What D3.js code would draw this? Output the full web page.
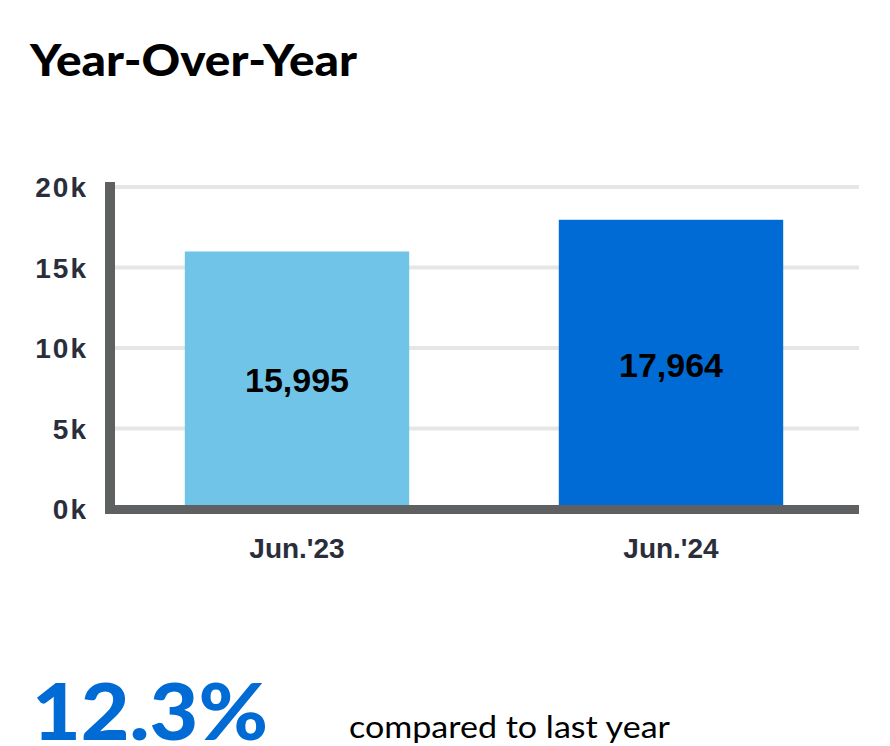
<!DOCTYPE html>
<html>
<head>
<meta charset="utf-8">
<script src="https://cdn.jsdelivr.net/npm/d3@7"></script>
<style>
  html, body { margin: 0; padding: 0; background: #fff; }
  svg { display: block; }
</style>
</head>
<body>
<svg id="chart" width="890" height="746"></svg>
<script>
const title = "Year-Over-Year";
const categories = ["Jun.'23", "Jun.'24"];
const values = [15995, 17964];
const barColors = ["#70c4e8", "#006bd5"];
const yTicks = [0, 5000, 10000, 15000, 20000];
const yTickLabels = ["0k", "5k", "10k", "15k", "20k"];
const changeText = "12.3%";
const changeCaption = "compared to last year";

const svg = d3.select("#chart");

svg.append("text")
  .attr("x", 30).attr("y", 76)
  .attr("font-family", "Lato, 'Open Sans', sans-serif")
  .attr("font-weight", 900)
  .attr("font-size", 43)
  .attr("textLength", 327)
  .attr("lengthAdjust", "spacingAndGlyphs")
  .attr("fill", "#000")
  .text(title);

const x = d3.scaleBand().domain(categories).range([110, 858]).paddingInner(0.4).paddingOuter(0.2);
const y = d3.scaleLinear().domain([0, 20000]).range([509, 187]);

// gridlines
svg.append("g").selectAll("line").data(yTicks.filter(d => d > 0)).join("line")
  .attr("x1", 110).attr("x2", 859)
  .attr("y1", d => y(d)).attr("y2", d => y(d))
  .attr("stroke", "#e6e6e6").attr("stroke-width", 4);

// bars
svg.append("g").selectAll("rect").data(values).join("rect")
  .attr("x", (d, i) => x(categories[i]))
  .attr("width", x.bandwidth())
  .attr("y", d => y(d))
  .attr("height", d => y(0) - y(d))
  .attr("fill", (d, i) => barColors[i]);

// axis lines
svg.append("line").attr("x1", 110).attr("x2", 110).attr("y1", 182).attr("y2", 514)
  .attr("stroke", "#5f6062").attr("stroke-width", 10);
svg.append("line").attr("x1", 105).attr("x2", 859).attr("y1", 509.5).attr("y2", 509.5)
  .attr("stroke", "#5f6062").attr("stroke-width", 9);

// y tick labels
svg.append("g").selectAll("text").data(yTicks).join("text")
  .attr("x", 88)
  .attr("y", d => y(d))
  .attr("dy", "0.36em")
  .attr("text-anchor", "end")
  .attr("font-family", "'Liberation Sans', Arial, sans-serif")
  .attr("font-weight", 700)
  .attr("font-size", 28)
  .attr("letter-spacing", 2)
  .attr("fill", "#2a2e3b")
  .text((d, i) => yTickLabels[i]);

// x labels
svg.append("g").selectAll("text").data(categories).join("text")
  .attr("x", d => x(d) + x.bandwidth() / 2)
  .attr("y", 558)
  .attr("text-anchor", "middle")
  .attr("font-family", "'Liberation Sans', Arial, sans-serif")
  .attr("font-weight", 700)
  .attr("font-size", 28)
  .attr("fill", "#2a2e3b")
  .text(d => d);

// value labels
const fmt = d3.format(",");
svg.append("g").selectAll("text").data(values).join("text")
  .attr("x", (d, i) => x(categories[i]) + x.bandwidth() / 2)
  .attr("y", d => (y(d) + y(0)) / 2)
  .attr("dy", "0.36em")
  .attr("text-anchor", "middle")
  .attr("font-family", "'Liberation Sans', Arial, sans-serif")
  .attr("font-weight", 700)
  .attr("font-size", 34)
  .attr("fill", "#000")
  .text(d => fmt(d));

// bottom summary
svg.append("text")
  .attr("x", 32).attr("y", 740)
  .attr("font-family", "Lato, 'Open Sans', sans-serif")
  .attr("font-weight", 900)
  .attr("font-size", 78)
  .attr("textLength", 236)
  .attr("lengthAdjust", "spacingAndGlyphs")
  .attr("fill", "#006bd5")
  .text(changeText);

svg.append("text")
  .attr("x", 349).attr("y", 738)
  .attr("font-family", "Lato, 'Open Sans', sans-serif")
  .attr("font-weight", 400)
  .attr("font-size", 31)
  .attr("textLength", 321)
  .attr("lengthAdjust", "spacingAndGlyphs")
  .attr("fill", "#000")
  .text(changeCaption);
</script>
</body>
</html>
